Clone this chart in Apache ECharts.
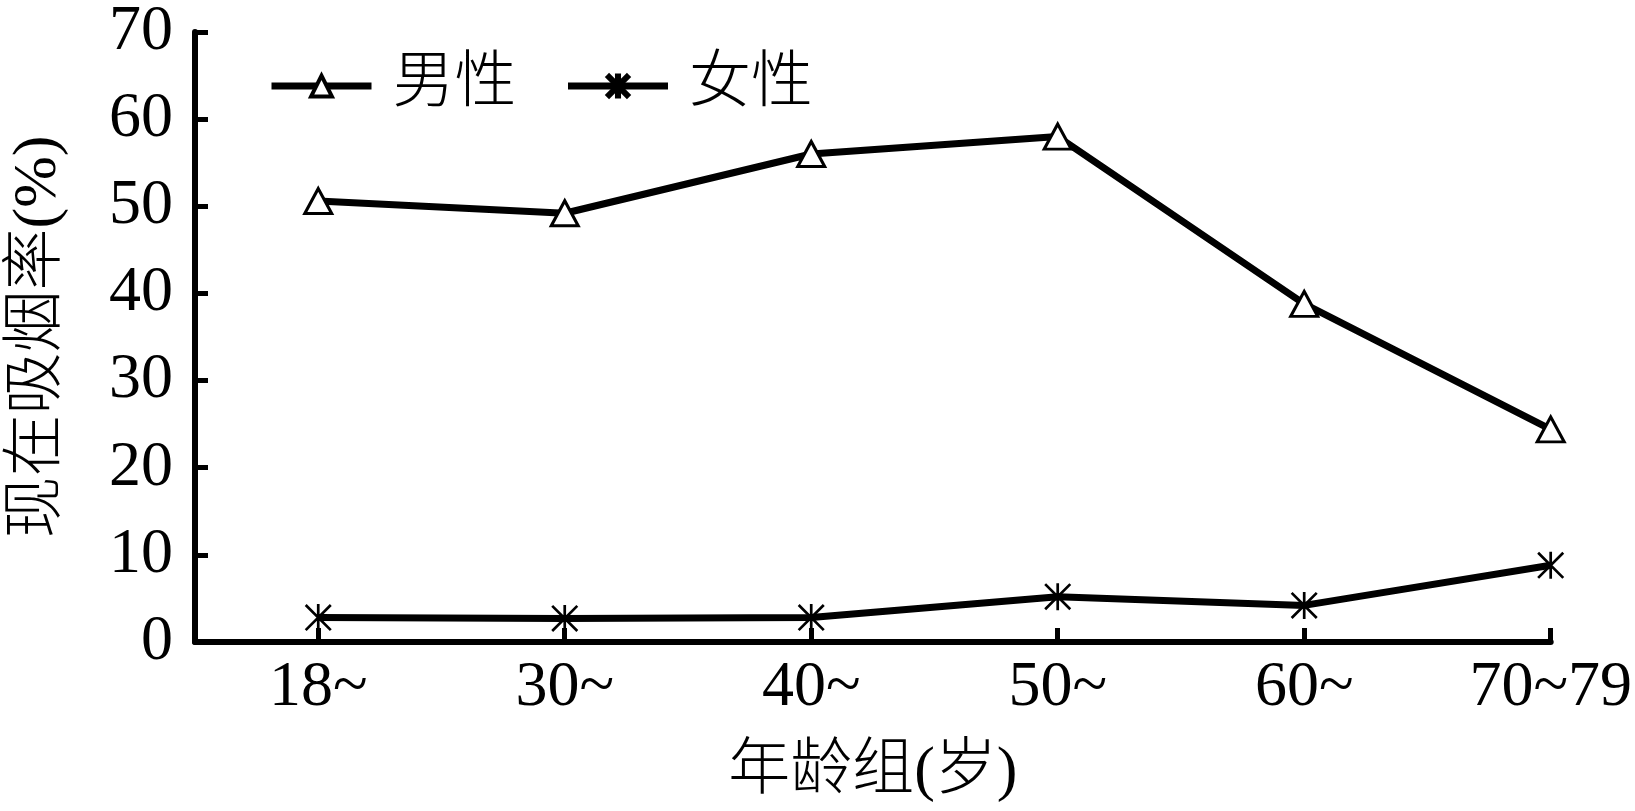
<!DOCTYPE html>
<html>
<head>
<meta charset="utf-8">
<title>现在吸烟率</title>
<script src="https://cdn.jsdelivr.net/npm/echarts@6/dist/echarts.min.js"></script>
<style>
  html, body { margin: 0; padding: 0; background: #fff; }
  #myChart { width: 1635px; height: 811px; }
</style>
</head>
<body>
<div id="myChart"></div>
<script>
// 年龄组
var ageGroups = ['18~', '30~', '40~', '50~', '60~', '70~79'];
// 现在吸烟率(%)
var maleRate = [50.6, 49.2, 56.0, 58.0, 38.8, 24.4];
var femaleRate = [2.8, 2.7, 2.8, 5.2, 4.2, 8.8];
var yTicks = [0, 10, 20, 30, 40, 50, 60, 70];

var serif = "'Liberation Serif', 'Noto Sans CJK SC', serif";
// 星号 marker
var starPath = 'path://M45 0L55 0L55 100L45 100Z M0 7L7 0L100 93L93 100Z M93 0L100 7L7 100L0 93Z';

function toPoints(arr) {
    return arr.map(function (v, i) { return [i, v]; });
}

var myChart = echarts.init(document.getElementById('myChart'));
var options = {
    backgroundColor: '#fff',
    animation: false,
    grid: {
        left: 185,
        right: 81,
        top: 28,
        bottom: 169
    },
    legend: {
        left: 263,
        top: 50,
        itemWidth: 100,
        itemHeight: 26,
        itemGap: 48,
        lineStyle: { width: 7, color: '#000' },
        itemStyle: { borderWidth: 4, borderColor: '#000' },
        textStyle: {
            fontFamily: serif,
            fontSize: 62,
            fontWeight: 300,
            color: '#000',
            padding: [0, 0, 0, 16]
        },
        data: ['男性', '女性']
    },
    xAxis: {
        type: 'value',
        min: -0.5,
        max: 5,
        name: '年龄组(岁)',
        nameLocation: 'middle',
        nameGap: 100,
        nameTextStyle: {
            fontFamily: serif,
            fontSize: 62,
            fontWeight: 300,
            color: '#000'
        },
        splitLine: { show: false },
        axisLine: {
            onZero: false,
            lineStyle: { color: '#000', width: 6 }
        },
        axisTick: {
            inside: true,
            length: 14,
            customValues: [0, 1, 2, 3, 4, 5],
            lineStyle: { color: '#000', width: 5 }
        },
        axisLabel: {
            customValues: [0, 1, 2, 3, 4, 5],
            margin: 14,
            fontFamily: serif,
            fontSize: 64,
            color: '#000',
            formatter: function (v) { return ageGroups[Math.round(v)]; }
        }
    },
    yAxis: {
        type: 'value',
        min: 0,
        max: 70,
        interval: 10,
        name: '现在吸烟率(%)',
        nameLocation: 'middle',
        nameRotate: 90,
        nameGap: 125,
        nameTextStyle: {
            fontFamily: serif,
            fontSize: 62,
            fontWeight: 300,
            color: '#000'
        },
        splitLine: { show: false },
        axisLine: {
            show: true,
            onZero: false,
            lineStyle: { color: '#000', width: 6 }
        },
        axisTick: {
            inside: true,
            length: 13,
            lineStyle: { color: '#000', width: 5 }
        },
        axisLabel: {
            margin: 22,
            fontFamily: serif,
            fontSize: 64,
            color: '#000',
            formatter: function (v) { return yTicks.indexOf(v) >= 0 ? String(v) : ''; }
        }
    },
    series: [
        {
            name: '男性',
            type: 'line',
            data: toPoints(maleRate),
            symbol: 'triangle',
            symbolSize: [27, 25],
            lineStyle: { color: '#000', width: 7 },
            itemStyle: { color: '#fff', borderColor: '#000', borderWidth: 3 }
        },
        {
            name: '女性',
            type: 'line',
            data: toPoints(femaleRate),
            symbol: starPath,
            symbolSize: 27,
            lineStyle: { color: '#000', width: 7 },
            itemStyle: { color: '#000' }
        }
    ]
};
myChart.setOption(options);
</script>
</body>
</html>
